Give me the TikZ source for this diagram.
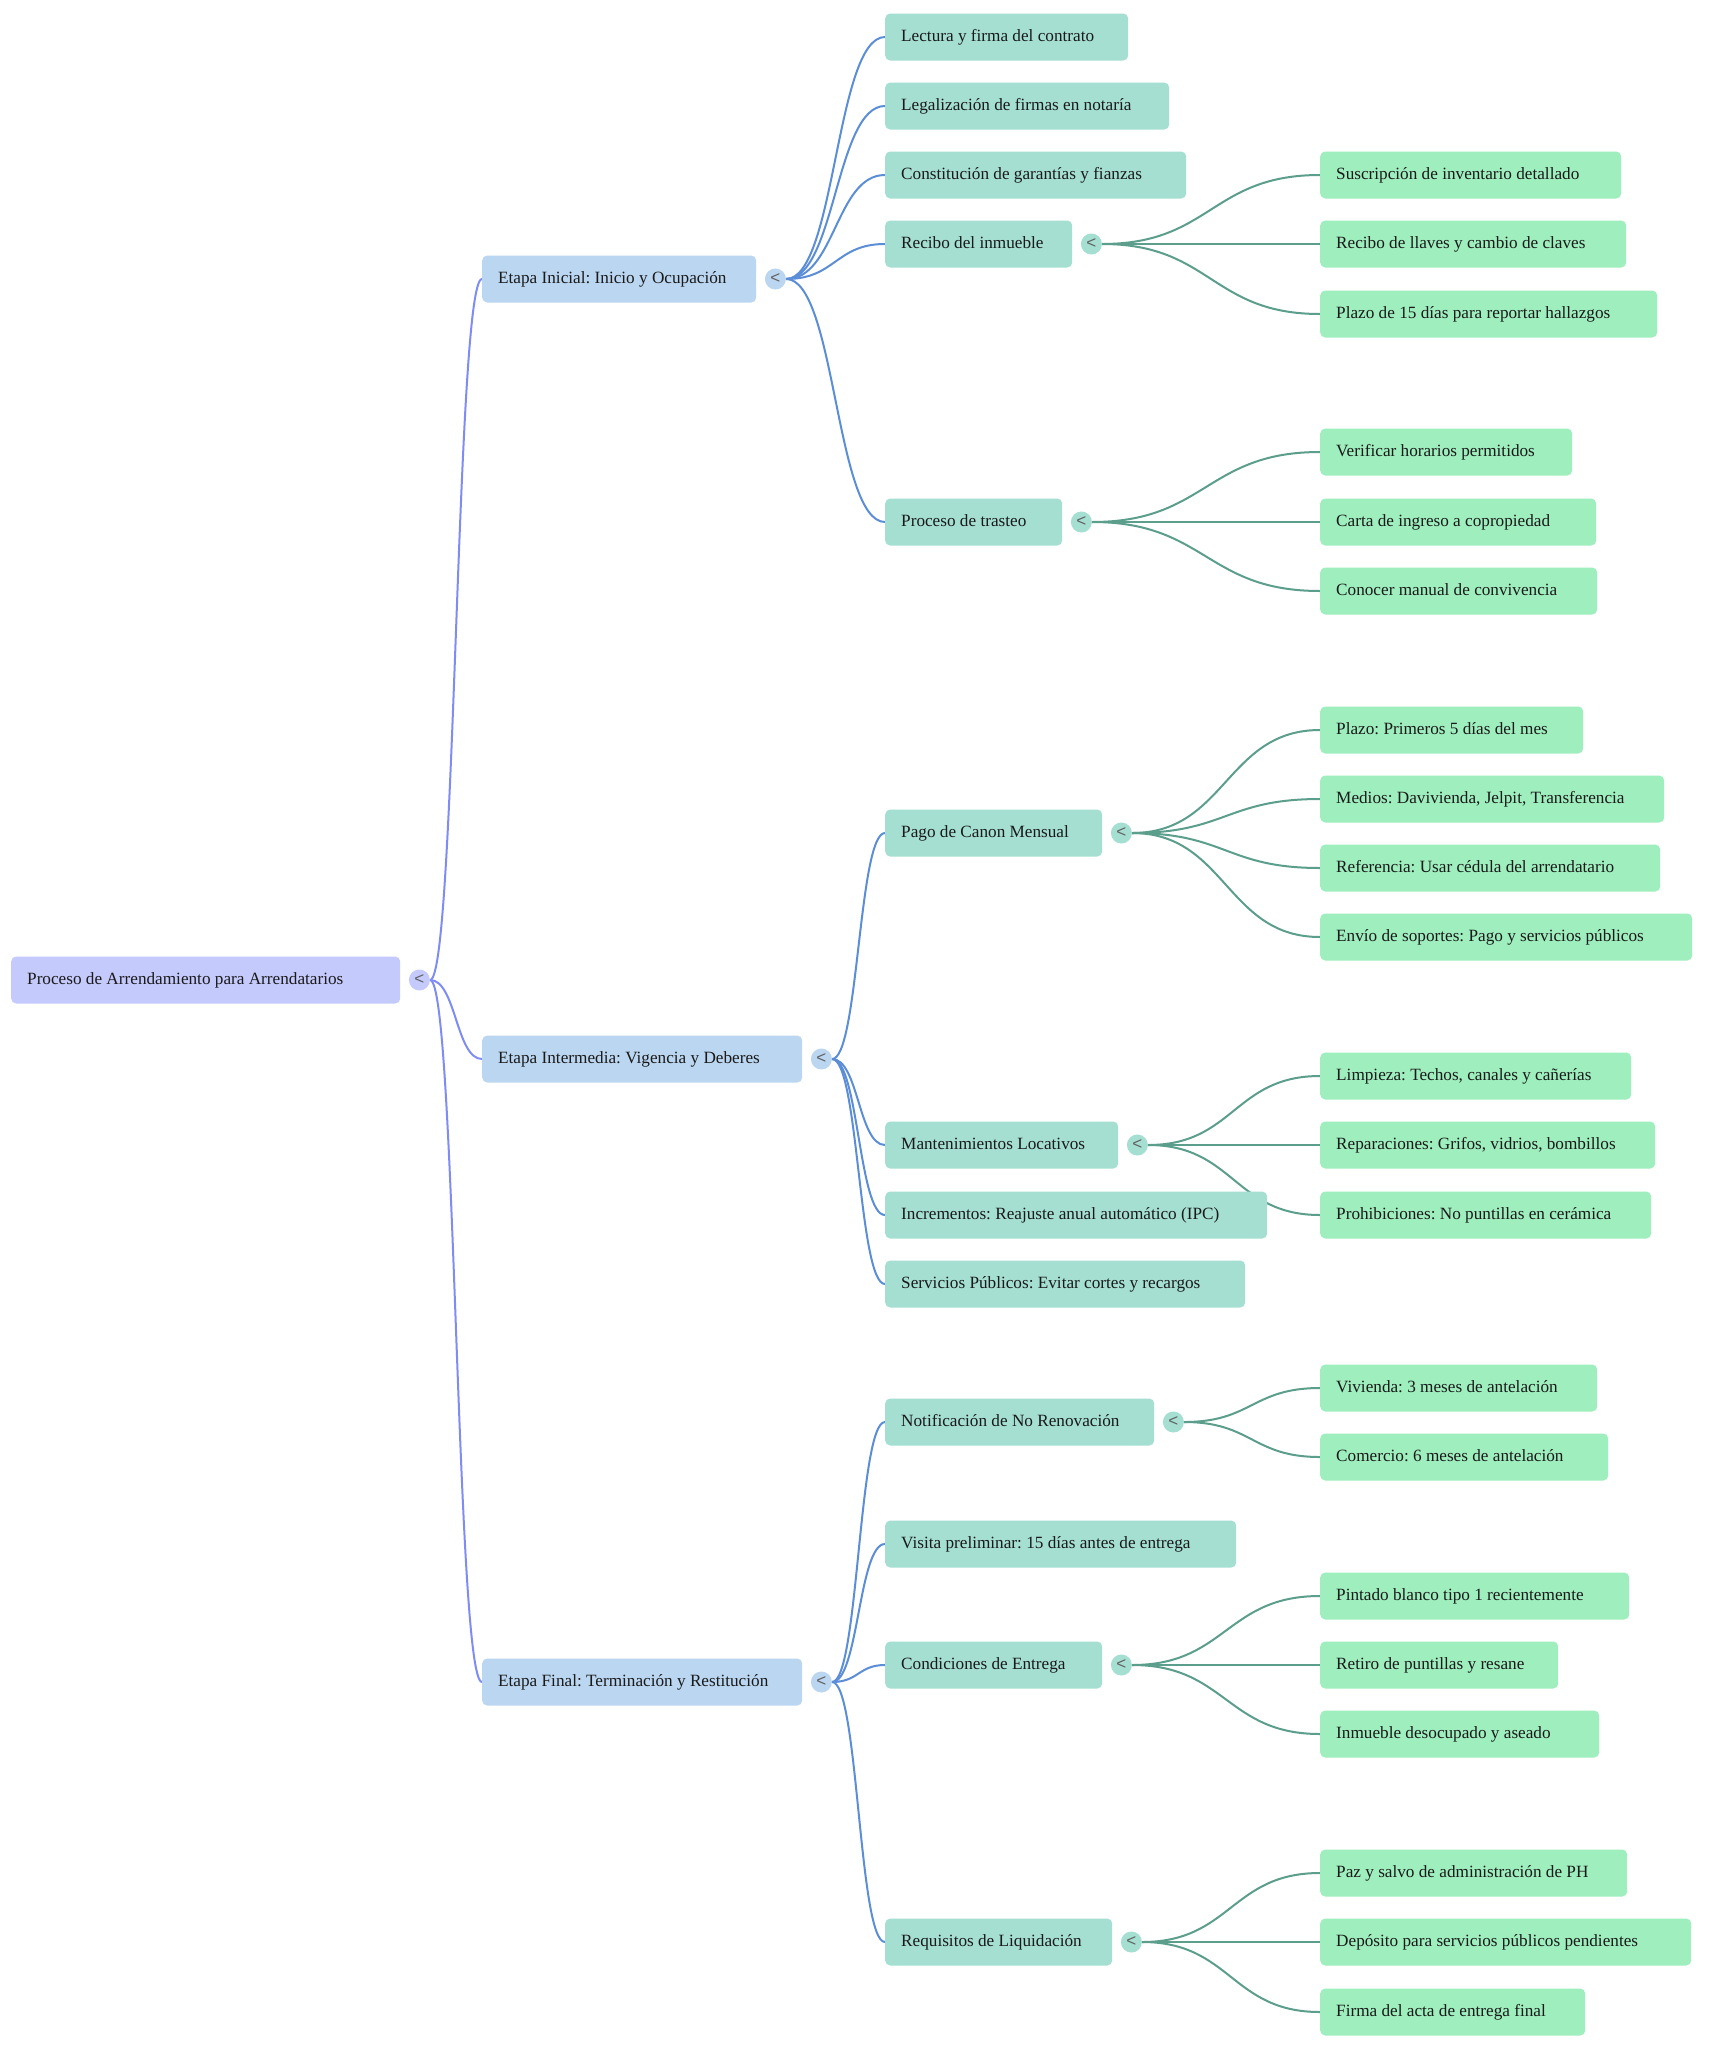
\documentclass[tikz,border=0pt]{standalone}
\usepackage{fontspec}
\setmainfont{Liberation Serif}
\newfontfamily\lsans{Liberation Sans}
\usetikzlibrary{calc,backgrounds}
\definecolor{cz}{RGB}{197,202,253}
\definecolor{ca}{RGB}{187,214,240}
\definecolor{cb}{RGB}{164,223,210}
\definecolor{cc}{RGB}{158,238,190}
\definecolor{ez}{RGB}{128,140,245}
\definecolor{ea}{RGB}{91,142,214}
\definecolor{eb}{RGB}{92,158,140}
\definecolor{txt}{RGB}{26,26,26}
\newcommand\tw[2]{\makebox[#1pt][l]{#2}}
\newcommand\conn[3]{\draw[#1] let \p1=(#2.east), \p2=(#3.west) in (\p1) .. controls ({(\x1+\x2)/2},\y1) and ({(\x1+\x2)/2},\y2) .. (\p2);}
\frenchspacing
\begin{document}
\begin{tikzpicture}[x=1pt,y=-1pt,
  box/.style={rounded corners=5pt, minimum height=47pt, inner xsep=16pt, inner ysep=0pt, anchor=west, text height=12pt, text depth=2.4pt, text=txt, font=\fontsize{17.2}{20}\selectfont\frenchspacing},
  nz/.style={box, fill=cz},
  na/.style={box, fill=ca},
  nb/.style={box, fill=cb},
  nc/.style={box, fill=cc},
  btn/.style={circle, minimum size=21pt, inner sep=0pt, text=black!62, font=\lsans\fontsize{17}{17}\selectfont},
  lz/.style={draw=ez, line width=2pt},
  la/.style={draw=ea, line width=2pt},
  lb/.style={draw=eb, line width=2pt}
]
\useasboundingbox (0,0) rectangle (1733,2048);
% root
\node[nz] (root) at (11,980) {\tw{357}{Proceso de Arrendamiento para Arrendatarios}};
\node[btn, fill=cz] (broot) at ([xshift=19pt]root.east) {<};
% level 1
\node[na] (s1) at (482,279) {\tw{242}{Etapa Inicial: Inicio y Ocupación}};
\node[na] (s2) at (482,1059) {\tw{288}{Etapa Intermedia: Vigencia y Deberes}};
\node[na] (s3) at (482,1682) {\tw{288}{Etapa Final: Terminación y Restitución}};
\node[btn, fill=ca] (bs1) at ([xshift=19pt]s1.east) {<};
\node[btn, fill=ca] (bs2) at ([xshift=19pt]s2.east) {<};
\node[btn, fill=ca] (bs3) at ([xshift=19pt]s3.east) {<};
% level 2 - stage 1
\node[nb] (a1) at (885,37) {\tw{211}{Lectura y firma del contrato}};
\node[nb] (a2) at (885,106) {\tw{252}{Legalización de firmas en notaría}};
\node[nb] (a3) at (885,175) {\tw{269}{Constitución de garantías y fianzas}};
\node[nb] (a4) at (885,244) {\tw{155}{Recibo del inmueble}};
\node[nb] (a5) at (885,522) {\tw{145}{Proceso de trasteo}};
\node[btn, fill=cb] (ba4) at ([xshift=19pt]a4.east) {<};
\node[btn, fill=cb] (ba5) at ([xshift=19pt]a5.east) {<};
% level 2 - stage 2
\node[nb] (b1) at (885,833) {\tw{185}{Pago de Canon Mensual}};
\node[nb] (b2) at (885,1145) {\tw{201}{Mantenimientos Locativos}};
\node[nb] (b3) at (885,1215) {\tw{350}{Incrementos: Reajuste anual automático (IPC)}};
\node[nb] (b4) at (885,1284) {\tw{328}{Servicios Públicos: Evitar cortes y recargos}};
\node[btn, fill=cb] (bb1) at ([xshift=19pt]b1.east) {<};
\node[btn, fill=cb] (bb2) at ([xshift=19pt]b2.east) {<};
% level 2 - stage 3
\node[nb] (c1) at (885,1422) {\tw{237}{Notificación de No Renovación}};
\node[nb] (c2) at (885,1544) {\tw{319}{Visita preliminar: 15 días antes de entrega}};
\node[nb] (c3) at (885,1665) {\tw{185}{Condiciones de Entrega}};
\node[nb] (c4) at (885,1942) {\tw{195}{Requisitos de Liquidación}};
\node[btn, fill=cb] (bc1) at ([xshift=19pt]c1.east) {<};
\node[btn, fill=cb] (bc3) at ([xshift=19pt]c3.east) {<};
\node[btn, fill=cb] (bc4) at ([xshift=19pt]c4.east) {<};
% level 3
\node[nc] (a41) at (1320,175) {\tw{269}{Suscripción de inventario detallado}};
\node[nc] (a42) at (1320,244) {\tw{274}{Recibo de llaves y cambio de claves}};
\node[nc] (a43) at (1320,314) {\tw{305}{Plazo de 15 días para reportar hallazgos}};
\node[nc] (a51) at (1320,452) {\tw{220}{Verificar horarios permitidos}};
\node[nc] (a52) at (1320,522) {\tw{244}{Carta de ingreso a copropiedad}};
\node[nc] (a53) at (1320,591) {\tw{245}{Conocer manual de convivencia}};
\node[nc] (b11) at (1320,730) {\tw{231}{Plazo: Primeros 5 días del mes}};
\node[nc] (b12) at (1320,799) {\tw{312}{Medios: Davivienda, Jelpit, Transferencia}};
\node[nc] (b13) at (1320,868) {\tw{308}{Referencia: Usar cédula del arrendatario}};
\node[nc] (b14) at (1320,937) {\tw{340}{Envío de soportes: Pago y servicios públicos}};
\node[nc] (b21) at (1320,1076) {\tw{279}{Limpieza: Techos, canales y cañerías}};
\node[nc] (b22) at (1320,1145) {\tw{303}{Reparaciones: Grifos, vidrios, bombillos}};
\node[nc] (b23) at (1320,1215) {\tw{299}{Prohibiciones: No puntillas en cerámica}};
\node[nc] (c11) at (1320,1388) {\tw{245}{Vivienda: 3 meses de antelación}};
\node[nc] (c12) at (1320,1457) {\tw{256}{Comercio: 6 meses de antelación}};
\node[nc] (c31) at (1320,1596) {\tw{277}{Pintado blanco tipo 1 recientemente}};
\node[nc] (c32) at (1320,1665) {\tw{206}{Retiro de puntillas y resane}};
\node[nc] (c33) at (1320,1734) {\tw{247}{Inmueble desocupado y aseado}};
\node[nc] (c41) at (1320,1873) {\tw{275}{Paz y salvo de administración de PH}};
\node[nc] (c42) at (1320,1942) {\tw{339}{Depósito para servicios públicos pendientes}};
\node[nc] (c43) at (1320,2012) {\tw{233}{Firma del acta de entrega final}};
% connectors
\begin{scope}[on background layer]
\fill[white] (0,0) rectangle (1733,2048);
\conn{lz}{broot}{s1}
\conn{lz}{broot}{s2}
\conn{lz}{broot}{s3}
\conn{la}{bs1}{a1}
\conn{la}{bs1}{a2}
\conn{la}{bs1}{a3}
\conn{la}{bs1}{a4}
\conn{la}{bs1}{a5}
\conn{la}{bs2}{b1}
\conn{la}{bs2}{b2}
\conn{la}{bs2}{b3}
\conn{la}{bs2}{b4}
\conn{la}{bs3}{c1}
\conn{la}{bs3}{c2}
\conn{la}{bs3}{c3}
\conn{la}{bs3}{c4}
\conn{lb}{ba4}{a41}
\conn{lb}{ba4}{a42}
\conn{lb}{ba4}{a43}
\conn{lb}{ba5}{a51}
\conn{lb}{ba5}{a52}
\conn{lb}{ba5}{a53}
\conn{lb}{bb1}{b11}
\conn{lb}{bb1}{b12}
\conn{lb}{bb1}{b13}
\conn{lb}{bb1}{b14}
\conn{lb}{bb2}{b21}
\conn{lb}{bb2}{b22}
\conn{lb}{bb2}{b23}
\conn{lb}{bc1}{c11}
\conn{lb}{bc1}{c12}
\conn{lb}{bc3}{c31}
\conn{lb}{bc3}{c32}
\conn{lb}{bc3}{c33}
\conn{lb}{bc4}{c41}
\conn{lb}{bc4}{c42}
\conn{lb}{bc4}{c43}
\end{scope}
\end{tikzpicture}
\end{document}
